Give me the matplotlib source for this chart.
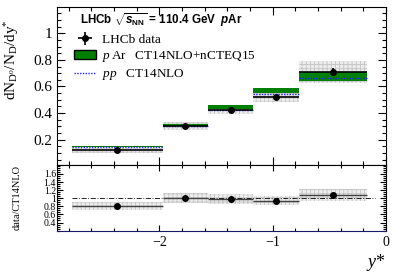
import matplotlib
matplotlib.use("Agg")
import matplotlib.pyplot as plt
from matplotlib.patches import Patch
from matplotlib.ticker import MultipleLocator, FuncFormatter
import numpy as np

plt.rcParams['font.family'] = ['Liberation Serif', 'DejaVu Serif']
plt.rcParams['mathtext.fontset'] = 'custom'
plt.rcParams['mathtext.rm'] = 'Liberation Serif'
plt.rcParams['mathtext.it'] = 'Liberation Serif:italic'
plt.rcParams['mathtext.bf'] = 'Liberation Sans:bold'
plt.rcParams['mathtext.bfit'] = 'Liberation Sans:italic:bold'
plt.rcParams['hatch.linewidth'] = 0.6

# y* bins
bin_lo = np.array([-2.77, -1.97, -1.57, -1.17, -0.77])
bin_hi = np.array([-1.97, -1.57, -1.17, -0.77, -0.17])

# LHCb data
data = np.array([0.12, 0.30, 0.42, 0.52, 0.71])
data_stat = np.array([0.006, 0.006, 0.008, 0.010, 0.030])
data_syst = np.array([0.020, 0.030, 0.025, 0.040, 0.085])

# pAr CT14NLO+nCTEQ15 band
ncteq_lo = np.array([0.142, 0.305, 0.430, 0.550, 0.642])
ncteq_hi = np.array([0.155, 0.317, 0.457, 0.587, 0.708])

# pp CT14NLO
ct14 = np.array([0.145, 0.305, 0.425, 0.545, 0.662])

# data / CT14NLO
ratio = np.array([0.80, 1.01, 0.98, 0.94, 1.08])
ratio_err = np.array([0.10, 0.12, 0.12, 0.11, 0.14])
ratio_stat = np.array([0.01, 0.01, 0.015, 0.015, 0.03])

centers = 0.5 * (bin_lo + bin_hi)
widths = bin_hi - bin_lo

grey_fc = '#ececec'
grey_hc = '#c4c4c4'
green = '#008000'

fig = plt.figure(figsize=(4.07, 2.76), dpi=100)
ax = fig.add_axes([0.141, 0.4033, 0.807, 0.5702])
rax = fig.add_axes([0.141, 0.163, 0.807, 0.2403], sharex=ax)

# ---- main panel
ax.bar(bin_lo, 2 * data_syst, width=widths, bottom=data - data_syst, align='edge',
       facecolor=grey_fc, edgecolor=grey_hc, hatch='++++', linewidth=0, zorder=1)
ax.bar(bin_lo, ncteq_hi - ncteq_lo, width=widths, bottom=ncteq_lo, align='edge',
       color=green, linewidth=0, zorder=2)
ax.hlines(ct14, bin_lo, bin_hi, colors='#2020ff', linestyles=(0, (1, 1)), linewidth=1.0, zorder=3)
eb = ax.errorbar(centers, data, xerr=widths / 2, yerr=data_stat, fmt='o', color='black',
                 markersize=4, elinewidth=1.2, capsize=0, zorder=4)

ax.set_xlim(-2.9, 0)
ax.set_ylim(0.012, 1.195)
ax.yaxis.set_major_locator(MultipleLocator(0.2))
ax.yaxis.set_minor_locator(MultipleLocator(0.05))
ax.xaxis.set_major_locator(MultipleLocator(1))
ax.xaxis.set_minor_locator(MultipleLocator(0.2))
ax.yaxis.set_major_formatter(FuncFormatter(lambda v, p: '%g' % round(v, 2)))
ax.tick_params(which='both', direction='in', top=True, right=True, labelbottom=False, labelsize=11)
ax.tick_params(which='major', length=6, width=0.8)
ax.tick_params(which='minor', length=3, width=0.8)
ax.set_ylabel(r'dN$_{\rm D^0}$/N$_{\rm D}$/dy$^{*}$', fontsize=11)
ax.yaxis.set_label_coords(-0.11, 0.665)

ax.text(0.069, 0.922, r'LHCb $\sqrt{\mathbfit{s}_{\mathbf{NN}}}$ = 110.4 GeV  $\mathbfit{p}$Ar',
        transform=ax.transAxes, fontsize=8.4, fontweight='bold', family='Liberation Sans', va='center')

handles = [eb, Patch(facecolor=green, edgecolor='black', linewidth=1.0),
           plt.Line2D([], [], color='#2020ff', linestyle=(0, (1, 1)), linewidth=1.0)]
labels = ['LHCb data', r'$p\,$Ar   CT14NLO+nCTEQ15', r'$pp$   CT14NLO']
ax.legend(handles, labels, loc='upper left', bbox_to_anchor=(0.03, 0.875), frameon=False,
          fontsize=9.5, handlelength=1.7, handletextpad=0.4, labelspacing=0.25, borderpad=0)

# ---- ratio panel
rax.bar(bin_lo, 2 * ratio_err, width=widths, bottom=ratio - ratio_err, align='edge',
        facecolor=grey_fc, edgecolor=grey_hc, hatch='++++', linewidth=0, zorder=1)
rax.hlines(1.0, bin_lo[0], -0.1, colors='black', linestyles=(0, (6, 2, 1, 2)), linewidth=0.6, zorder=2)
rax.errorbar(centers, ratio, xerr=widths / 2, yerr=ratio_stat, fmt='o', color='black',
             ecolor='#404040', markersize=4, elinewidth=1.0, capsize=0, zorder=3)

rax.set_ylim(0.19, 1.83)
rax.set_yticks(np.arange(0.4, 1.61, 0.2))
rax.yaxis.set_minor_locator(MultipleLocator(0.05))
rax.yaxis.set_major_formatter(FuncFormatter(lambda v, p: '%g' % round(v, 2)))
rax.tick_params(which='both', direction='in', top=True, right=True)
rax.tick_params(axis='y', labelsize=7, pad=1)
rax.tick_params(axis='x', labelsize=10)
rax.tick_params(which='major', length=4, width=0.8)
rax.tick_params(which='minor', length=2, width=0.8)
rax.spines['bottom'].set_color('#1a1a60')
rax.set_ylabel('data/CT14NLO', fontsize=7.5)
rax.yaxis.set_label_coords(-0.11, 0.5)
rax.set_xlabel(r'$y$*', fontsize=13, loc='right', labelpad=2)

fig.savefig('out.png', dpi=100)
